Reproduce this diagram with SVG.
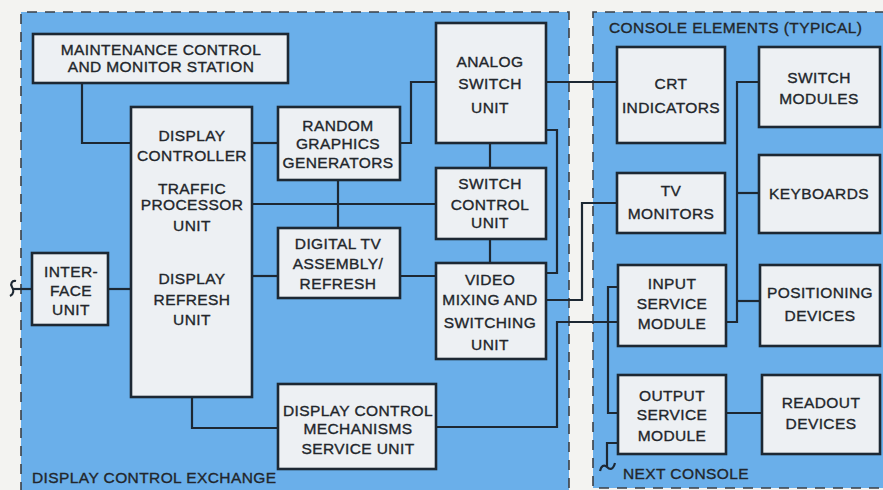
<svg xmlns="http://www.w3.org/2000/svg" width="883" height="490" viewBox="0 0 883 490">
<style>
.bg{fill:#f3f3f1}
.panel{fill:#6aafea}
.dash{fill:none;stroke:#3a3f45;stroke-width:1.6;stroke-dasharray:10 8}
.box{fill:#edf0f3;stroke:#1d2833;stroke-width:2.6}
.c{fill:none;stroke:#1d2833;stroke-width:2.2;stroke-linejoin:miter}
text{font-family:"Liberation Sans",Arial,sans-serif;font-size:15.5px;fill:#22262b;stroke:#22262b;stroke-width:0.35;letter-spacing:0.4px}
.m{text-anchor:middle}
</style>
<rect class="bg" x="0" y="0" width="883" height="490"/>
<rect class="panel" x="21" y="12" width="548" height="480"/>
<rect class="panel" x="593" y="12" width="292" height="476"/>
<path class="dash" d="M21,492 V12 H569 V492"/>
<path class="dash" d="M885,12 H593 V488 H885"/>

<g id="connectors">
<path class="c" d="M82,83 V143 H131"/>
<path class="c" d="M252,143 H278"/>
<path class="c" d="M400,143 H411 V82 H436"/>
<path class="c" d="M338,180 V228"/>
<path class="c" d="M252,204 H436"/>
<path class="c" d="M490,143 V168"/>
<path class="c" d="M490,239 V263"/>
<path class="c" d="M252,276 H278"/>
<path class="c" d="M400,276 H436"/>
<path class="c" d="M12,289 H32"/>
<path class="c" d="M16,281 C12,280 10,284 12,287 C14,290 14,294 10,296"/>
<path class="c" d="M108,289 H131"/>
<path class="c" d="M192,397 V428 H278"/>
<path class="c" d="M436,427 H557 V322 H618"/>
<path class="c" d="M546,82 H617"/>
<path class="c" d="M546,130 H557 V273 H546"/>
<path class="c" d="M546,300 H582 V203 H617"/>
<path class="c" d="M759,82 H737 V322 H726"/>
<path class="c" d="M737,193 H759"/>
<path class="c" d="M737,301 H760"/>
<path class="c" d="M618,287 H608 V413 H618"/>
<path class="c" d="M726,413 H762"/>
<path class="c" d="M618,443 H607 V467"/>
<path class="c" d="M600,471 C601,466 604,464 607,467 C610,470 613,470 615,463"/>
</g>

<g id="maintenance">
<rect class="box" x="33" y="34" width="255" height="49"/>
<text class="m" x="161" y="55">MAINTENANCE  CONTROL</text>
<text class="m" x="161" y="72">AND MONITOR  STATION</text>
</g>
<g id="display-controller">
<rect class="box" x="131" y="107" width="121" height="290"/>
<text class="m" x="192" y="141">DISPLAY</text>
<text class="m" x="192" y="161">CONTROLLER</text>
<text class="m" x="192" y="194">TRAFFIC</text>
<text class="m" x="192" y="210">PROCESSOR</text>
<text class="m" x="192" y="231">UNIT</text>
<text class="m" x="192" y="284">DISPLAY</text>
<text class="m" x="192" y="305">REFRESH</text>
<text class="m" x="192" y="325">UNIT</text>
</g>
<g id="random-graphics">
<rect class="box" x="278" y="107" width="122" height="73"/>
<text class="m" x="338" y="131">RANDOM</text>
<text class="m" x="338" y="149">GRAPHICS</text>
<text class="m" x="338" y="168">GENERATORS</text>
</g>
<g id="analog-switch">
<rect class="box" x="436" y="23" width="110" height="120"/>
<text class="m" x="490" y="67">ANALOG</text>
<text class="m" x="490" y="89">SWITCH</text>
<text class="m" x="490" y="113">UNIT</text>
</g>
<g id="switch-control">
<rect class="box" x="436" y="168" width="110" height="71"/>
<text class="m" x="490" y="189">SWITCH</text>
<text class="m" x="490" y="210">CONTROL</text>
<text class="m" x="490" y="228">UNIT</text>
</g>
<g id="digital-tv">
<rect class="box" x="278" y="228" width="122" height="70"/>
<text class="m" x="338" y="249">DIGITAL TV</text>
<text class="m" x="338" y="269">ASSEMBLY/</text>
<text class="m" x="338" y="289">REFRESH</text>
</g>
<g id="video-mixing">
<rect class="box" x="436" y="263" width="110" height="96"/>
<text class="m" x="490" y="285">VIDEO</text>
<text class="m" x="490" y="305">MIXING AND</text>
<text class="m" x="490" y="328">SWITCHING</text>
<text class="m" x="490" y="350">UNIT</text>
</g>
<g id="interface">
<rect class="box" x="32" y="253" width="76" height="72"/>
<text class="m" x="71" y="277">INTER-</text>
<text class="m" x="71" y="296">FACE</text>
<text class="m" x="71" y="315">UNIT</text>
</g>
<g id="dcm-service">
<rect class="box" x="278" y="384" width="158" height="85"/>
<text class="m" x="358" y="416">DISPLAY CONTROL</text>
<text class="m" x="358" y="434">MECHANISMS</text>
<text class="m" x="358" y="454">SERVICE  UNIT</text>
</g>
<text x="32" y="483">DISPLAY CONTROL EXCHANGE</text>

<text x="609" y="33">CONSOLE ELEMENTS (TYPICAL)</text>
<g id="crt">
<rect class="box" x="617" y="47" width="108" height="96"/>
<text class="m" x="671" y="89">CRT</text>
<text class="m" x="671" y="113">INDICATORS</text>
</g>
<g id="switch-modules">
<rect class="box" x="759" y="47" width="121" height="80"/>
<text class="m" x="819" y="83">SWITCH</text>
<text class="m" x="819" y="104">MODULES</text>
</g>
<g id="tv-monitors">
<rect class="box" x="617" y="173" width="108" height="60"/>
<text class="m" x="671" y="196">TV</text>
<text class="m" x="671" y="219">MONITORS</text>
</g>
<g id="keyboards">
<rect class="box" x="759" y="155" width="121" height="78"/>
<text class="m" x="819" y="199">KEYBOARDS</text>
</g>
<g id="input-service">
<rect class="box" x="618" y="265" width="108" height="81"/>
<text class="m" x="672" y="289">INPUT</text>
<text class="m" x="672" y="309">SERVICE</text>
<text class="m" x="672" y="329">MODULE</text>
</g>
<g id="positioning">
<rect class="box" x="760" y="265" width="120" height="81"/>
<text class="m" x="820" y="298">POSITIONING</text>
<text class="m" x="820" y="321">DEVICES</text>
</g>
<g id="output-service">
<rect class="box" x="618" y="375" width="108" height="79"/>
<text class="m" x="672" y="401">OUTPUT</text>
<text class="m" x="672" y="420">SERVICE</text>
<text class="m" x="672" y="441">MODULE</text>
</g>
<g id="readout">
<rect class="box" x="762" y="375" width="118" height="79"/>
<text class="m" x="821" y="408">READOUT</text>
<text class="m" x="821" y="429">DEVICES</text>
</g>
<text x="623" y="479">NEXT CONSOLE</text>
</svg>
